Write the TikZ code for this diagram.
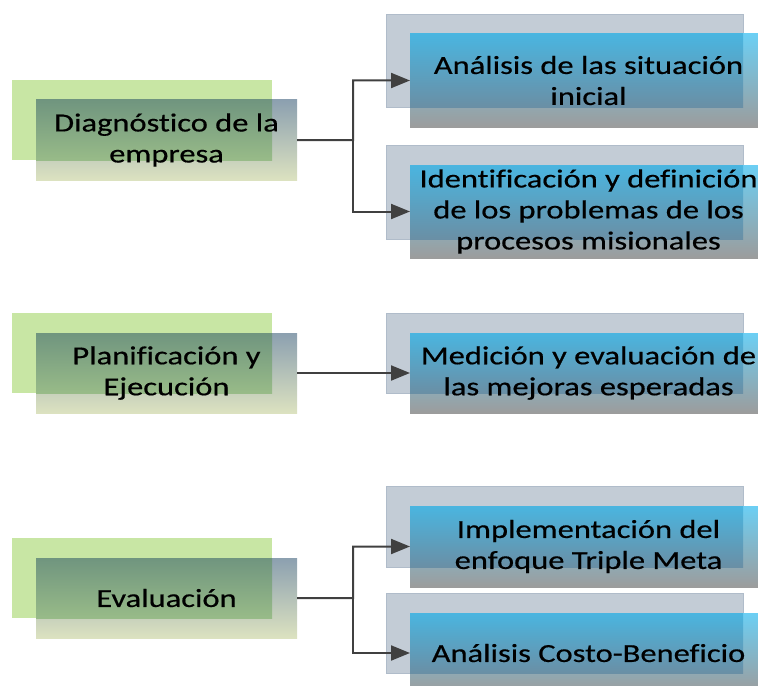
\documentclass[tikz,border=0pt]{standalone}
\usepackage{fontspec}
\newfontfamily\boxfont[FakeStretch=1.25,FakeBold=0.5,Ligatures=CommonOff]{Carlito}
\usetikzlibrary{arrows.meta}
\pgfdeclarelayer{bg}
\pgfsetlayers{bg,main}
\definecolor{lgreen}{HTML}{C8E6A4}
\definecolor{lfTop}{HTML}{8CA0B0}
\definecolor{lfMid}{HTML}{B4C0B8}
\definecolor{lfBot}{HTML}{DCE2C0}
\definecolor{loTop}{HTML}{70957F}
\definecolor{loBot}{HTML}{98BB88}
\definecolor{rgray}{HTML}{C3CCD6}
\definecolor{rgrayline}{HTML}{B0BCCA}
\definecolor{rfTop}{HTML}{6CCFF4}
\definecolor{rfBot}{HTML}{9C9C9C}
\definecolor{roTop}{HTML}{4AB5E0}
\definecolor{roBot}{HTML}{6A8FA5}
\definecolor{conn}{HTML}{404040}
\tikzset{
  lback/.style={fill=lgreen, draw=none, minimum width=260bp, minimum height=80bp, anchor=north west, inner sep=0pt, outer sep=0pt},
  rback/.style={fill=rgray, draw=rgrayline, line width=0.6bp, minimum width=357bp, anchor=north west, inner sep=0pt, outer sep=0pt},
  lfront/.style={minimum width=261bp, minimum height=80bp, anchor=north west, inner sep=0pt, outer sep=0pt, align=center, font=\boxfont\fontsize{26bp}{31bp}\selectfont},
  rfront/.style={minimum width=357bp, anchor=north west, inner sep=0pt, outer sep=0pt, align=center, font=\boxfont\fontsize{26bp}{31bp}\selectfont},
  lshade/.style={top color=lfTop, middle color=lfMid, bottom color=lfBot, draw=none},
  loshade/.style={top color=loTop, bottom color=loBot, draw=none},
  rshade/.style={top color=rfTop, bottom color=rfBot, draw=none},
  roshade/.style={top color=roTop, bottom color=roBot, draw=none},
  conn/.style={draw=conn, line width=2bp, -{Triangle[length=19bp,width=15bp]}},
}
\begin{document}
\begin{tikzpicture}[x=1bp,y=-1bp]
\useasboundingbox (0,0) rectangle (758,686);
% text nodes (front boxes)
\node[lfront] (L1f) at (36,100) {Diagnóstico de la\\empresa};
\node[lfront] (L2f) at (36,333) {Planificación y\\Ejecución};
\node[lfront] (L3f) at (36,558) {Evaluación};
\node[rfront, minimum height=93bp] (R1f) at (410,34) {Análisis de las situación\\inicial};
\node[rfront, minimum height=93bp] (R2f) at (410,165) {Identificación y definición\\de los problemas de los\\procesos misionales};
\node[rfront, minimum height=80bp] (R3f) at (410,333) {Medición y evaluación de\\las mejoras esperadas};
\node[rfront, minimum height=81bp] (R4f) at (410,506) {Implementación del\\enfoque Triple Meta};
\node[rfront, minimum height=80bp] (R5f) at (410,613) {Análisis Costo-Beneficio};
\begin{pgfonlayer}{bg}
% back boxes
\node[lback] (L1b) at (12,80) {};
\node[lback] (L2b) at (12,313) {};
\node[lback] (L3b) at (12,538) {};
\node[rback, minimum height=93bp] (R1b) at (386,14) {};
\node[rback, minimum height=94bp] (R2b) at (386,145) {};
\node[rback, minimum height=80bp] (R3b) at (386,313) {};
\node[rback, minimum height=81bp] (R4b) at (386,486) {};
\node[rback, minimum height=80bp] (R5b) at (386,593) {};
% front fills
\foreach \n in {L1,L2,L3}{
  \shade[lshade] (\n f.north west) rectangle (\n f.south east);
  \shade[loshade] (\n f.north west) rectangle (\n b.south east);
}
\foreach \n in {R1,R2,R3,R4,R5}{
  \shade[rshade] (\n f.north west) rectangle (\n f.south east);
  \shade[roshade] (\n f.north west) rectangle (\n b.south east);
}
\end{pgfonlayer}
% connectors
\coordinate (J1) at (353,140);
\coordinate (J3) at (353,598);
\draw[conn] (L1f.east) -- (J1) |- (R1f.west);
\draw[conn] (J1) |- (R2f.west);
\draw[conn] (L2f.east) -- (R3f.west);
\draw[conn] (L3f.east) -- (J3) |- (R4f.west);
\draw[conn] (J3) |- (R5f.west);
\end{tikzpicture}
\end{document}
